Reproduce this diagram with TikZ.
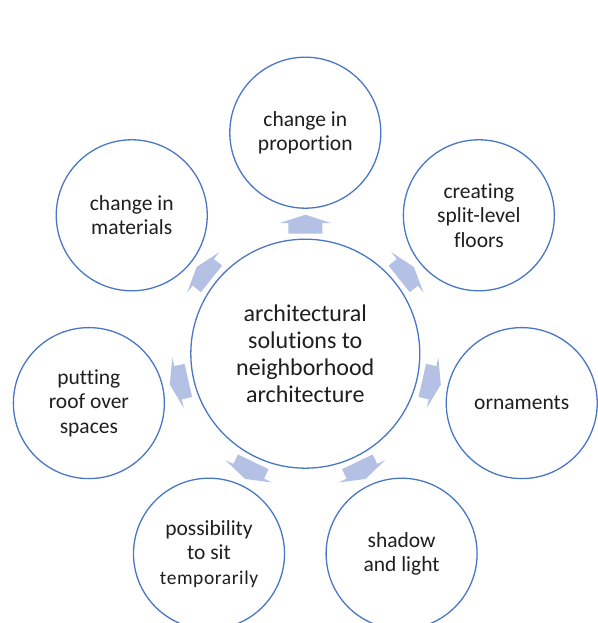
\documentclass[tikz,border=0pt]{standalone}
\usepackage{fontspec}
\setmainfont{Carlito}[Ligatures={NoCommon,NoRare,NoDiscretionary}]
\usetikzlibrary{calc}
\definecolor{ringblue}{RGB}{74,118,198}
\definecolor{arrowfill}{RGB}{180,193,228}
\definecolor{txt}{RGB}{30,30,30}
\begin{document}
\begin{tikzpicture}[x=1pt,y=1pt,
  outer/.style={circle, draw=ringblue, line width=1.3pt, minimum size=151pt, inner sep=0pt,
    align=center, text=txt, font=\fontsize{21.5}{24.5}\selectfont},
  hub/.style={circle, draw=ringblue, line width=1.3pt, minimum size=229pt, inner sep=0pt,
    align=center, text=txt, font=\fontsize{24}{27}\selectfont},
  blockarrow/.style={fill=arrowfill, draw=none}]
\useasboundingbox (0,0) rectangle (597,623);
\coordinate (c) at (305.3,269.3);
\node[hub] (hub) at (c) {architectural\\solutions to\\neighborhood\\architecture};
\node[outer] (n1) at ($(c)+(90:221)$) {change in\\proportion};
\node[outer] (n2) at ($(c)+(38.57:222)$) {creating\\split-level\\floors};
\node[outer] (n3) at ($(c)+(-12.86:222)$) {ornaments};
\node[outer] (n4) at ($(c)+(-64.29:222)$) {shadow\\and light};
\node[outer] (n5) at ($(c)+(-115.71:222)$) {possibility\\to sit\\{\fontsize{19.5}{22}\selectfont\addfontfeatures{LetterSpace=3}temporarily}};
\node[outer] (n6) at ($(c)+(192.86:222)$) {putting\\roof over\\spaces};
\node[outer] (n7) at ($(c)+(141.43:222)$) {change in\\materials};
\foreach \a in {90,38.57,-12.86,-64.29,-115.71,192.86,141.43}{
  \fill[blockarrow, shift={(c)}, rotate=\a-90]
    (-17,120) -- (17,120) -- (17,130.5) -- (26,130.5) -- (0,139)
    -- (-26,130.5) -- (-17,130.5) -- cycle;
}
\end{tikzpicture}
\end{document}
